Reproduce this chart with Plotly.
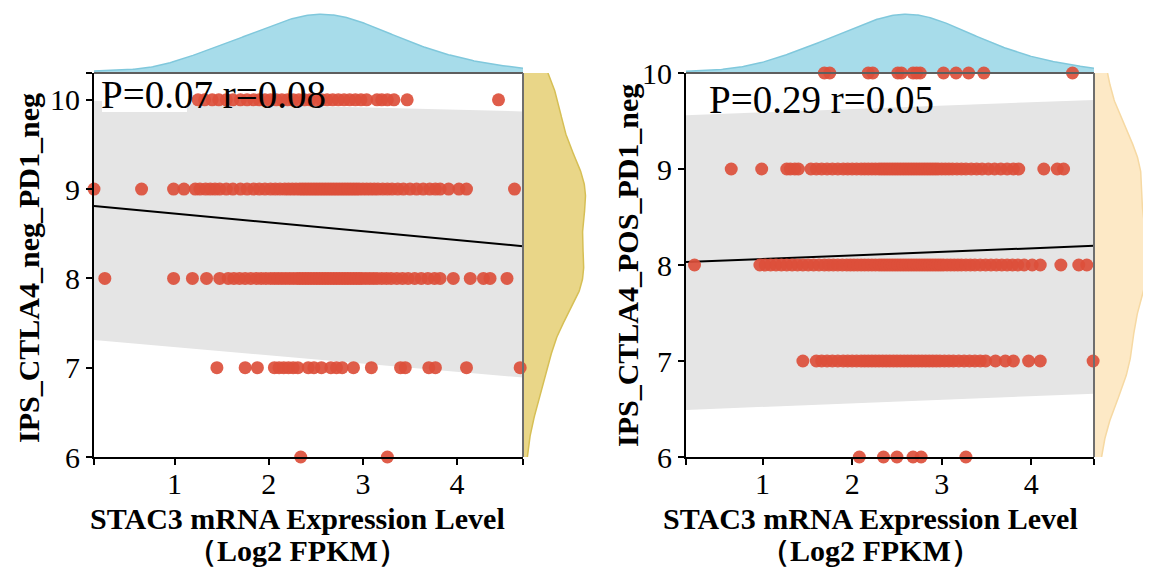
import numpy as np
import plotly.graph_objects as go

# page places the figure 8px from the window's top-left corner
OFF = 8
W, H = 1151 - OFF, 575 - OFF

# ---------------- data ----------------
x_range = [0.145, 4.70]
left_y_range = [6, 10.3]
right_y_range = [6, 10]

# Left panel: IPS_CTLA4_neg_PD1_neg
left_x10 = [1.25, 1.32, 1.40, 1.47, 1.55, 1.62, 1.70, 1.77, 1.84, 1.90, 1.96, 2.02, 2.08, 2.14,
            2.20, 2.26, 2.32, 2.38, 2.44, 2.50, 2.56, 2.62, 2.68, 2.74, 2.80, 2.86, 2.92, 2.98,
            3.04, 3.15, 3.20, 3.26, 3.33, 3.47, 4.44]
left_x9 = [0.145, 0.65, 0.99, 1.10, 1.22, 1.27, 1.33, 1.38, 1.43,
           1.48, 1.55, 1.62, 1.70, 1.77, 1.84, 1.90, 1.96, 2.02, 2.07, 2.12, 2.17, 2.21, 2.25,
           2.29, 2.33, 2.36, 2.39, 2.42, 2.45, 2.48, 2.51, 2.54, 2.57, 2.60, 2.63, 2.66, 2.69,
           2.72, 2.75, 2.78, 2.81, 2.84, 2.87, 2.90, 2.93, 2.96, 3.00, 3.04, 3.08, 3.12, 3.16,
           3.21, 3.26, 3.31, 3.37, 3.43, 3.50, 3.57, 3.64, 3.71, 3.77, 3.82,
           3.91, 4.02, 4.10, 4.61]
left_x8 = [0.26, 0.99, 1.19, 1.34, 1.48,
           1.57, 1.63, 1.69, 1.75, 1.81, 1.87, 1.92, 1.97, 2.02, 2.06, 2.10, 2.14, 2.18, 2.22,
           2.26, 2.30, 2.33, 2.36, 2.39, 2.42, 2.45, 2.48, 2.51, 2.54, 2.57, 2.60, 2.63, 2.66,
           2.69, 2.72, 2.75, 2.78, 2.81, 2.84, 2.87, 2.90, 2.93, 2.96, 2.99, 3.03, 3.07, 3.11,
           3.15, 3.20, 3.25, 3.30, 3.36, 3.42, 3.48, 3.55, 3.62, 3.69, 3.76, 3.82,
           3.96, 4.14, 4.28, 4.35, 4.53]
left_x7 = [1.45, 1.75, 1.88, 2.06, 2.11, 2.16, 2.21, 2.26, 2.31, 2.42, 2.48, 2.56, 2.66, 2.72,
           2.78, 2.90, 3.09, 3.40, 3.45, 3.70, 3.77, 4.10, 4.67]
left_x6 = [2.34, 3.26]

# Right panel: IPS_CTLA4_POS_PD1_neg
right_x10 = [1.69, 1.75, 2.18, 2.23, 2.51, 2.55, 2.68, 2.72, 2.76, 3.02, 3.16, 3.30, 3.47, 4.46]
right_x9 = [0.142, 0.65, 0.99, 1.27, 1.31, 1.36, 1.40, 1.54,
            1.60, 1.66, 1.72, 1.78, 1.84, 1.90, 1.95, 2.00, 2.05, 2.10, 2.14, 2.18, 2.22, 2.26,
            2.30, 2.33, 2.36, 2.39, 2.42, 2.45, 2.48, 2.51, 2.54, 2.57, 2.60, 2.63, 2.66, 2.69,
            2.72, 2.75, 2.78, 2.81, 2.84, 2.87, 2.90, 2.93, 2.96, 3.00, 3.04, 3.08, 3.12, 3.17,
            3.22, 3.27, 3.33, 3.39, 3.45, 3.52, 3.59, 3.66, 3.73, 3.80, 3.86,
            4.14, 4.29, 4.36]
right_x8 = [0.24,
            0.97, 1.03, 1.09, 1.15, 1.21, 1.27, 1.33, 1.39, 1.45, 1.51, 1.57, 1.63, 1.69, 1.74,
            1.79, 1.84, 1.89, 1.94, 1.98, 2.02, 2.06, 2.10, 2.14, 2.18, 2.22, 2.26, 2.30, 2.33,
            2.36, 2.39, 2.42, 2.45, 2.48, 2.51, 2.54, 2.57, 2.60, 2.63, 2.66, 2.69, 2.72, 2.75,
            2.78, 2.81, 2.84, 2.87, 2.90, 2.93, 2.96, 2.99, 3.02, 3.06, 3.10, 3.14, 3.18, 3.22,
            3.27, 3.32, 3.37, 3.43, 3.49, 3.55, 3.61, 3.67, 3.73, 3.79, 3.85,
            3.92, 4.01, 4.10, 4.33, 4.53, 4.62]
right_x7 = [1.45,
            1.60, 1.66, 1.72, 1.78, 1.84, 1.90, 1.95, 2.00, 2.05, 2.10, 2.14, 2.18, 2.22, 2.26,
            2.30, 2.34, 2.38, 2.42, 2.46, 2.50, 2.54, 2.58, 2.62, 2.66, 2.70, 2.74, 2.78, 2.82,
            2.86, 2.90, 2.94, 2.98, 3.03, 3.08, 3.13, 3.19, 3.25, 3.31, 3.37, 3.43, 3.49,
            3.60, 3.71, 3.80, 3.97, 4.10, 4.69]
right_x6 = [2.08, 2.35, 2.50, 2.68, 2.77, 3.27]

# regression line and confidence band (values at the x-range ends)
left_fit = [8.81, 8.36]
left_ci_upper = [9.99, 9.87]
left_ci_lower = [7.31, 6.89]
right_fit = [8.03, 8.20]
right_ci_upper = [9.56, 9.72]
right_ci_lower = [6.49, 6.66]

left_label = "P=0.07 r=0.08"
right_label = "P=0.29 r=0.05"
left_ytitle = "IPS_CTLA4_neg_PD1_neg"
right_ytitle = "IPS_CTLA4_POS_PD1_neg"
xtitle_1 = "STAC3 mRNA Expression Level"
xtitle_2 = "（Log2 FPKM）"

x_ticks = [1, 2, 3, 4]
y_ticks = [6, 7, 8, 9, 10]

# ---------------- styles ----------------
PT_COLOR = "#dc4f3b"
BAND_COLOR = "#e5e5e5"
BLUE_FILL, BLUE_LINE = "#a7dcea", "#80c8dc"
GOLD_FILL, GOLD_LINE = "#e9d688", "#d6bf55"
PEACH_FILL, PEACH_LINE = "#fde9c6", "#f6d9a3"
SERIF = "Liberation Serif"


def px_x(p):
    """window pixel -> paper x"""
    return (p - OFF) / W


def px_y(p):
    """window pixel -> paper y"""
    return 1 - (p - OFF) / H


def kde(values, grid, bw):
    v = np.asarray(values, float)[:, None]
    d = np.exp(-0.5 * ((grid[None, :] - v) / bw) ** 2).sum(axis=0)
    return d / d.max()


def build(rows):
    xs, ys = [], []
    for level, vals in rows:
        xs += vals
        ys += [level] * len(vals)
    return xs, ys


lx, ly = build([(10, left_x10), (9, left_x9), (8, left_x8), (7, left_x7), (6, left_x6)])
rx, ry = build([(10, right_x10), (9, right_x9), (8, right_x8), (7, right_x7), (6, right_x6)])

fig = go.Figure()

main_dom_y = [px_y(457), px_y(73)]
top_dom_y = [px_y(73), 1.0]

panels = [
    dict(xs=lx, ys=ly, yr=left_y_range, fit=left_fit, up=left_ci_upper, lo=left_ci_lower,
         xdom=[px_x(94), px_x(523)], rdom=[px_x(524), px_x(599)], rrange=[0, 1.22],
         rfill=GOLD_FILL, rline=GOLD_LINE, ax=(1, 2, 3),
         label=left_label, lab_x=99, lab_y=94, ytitle=left_ytitle, yt_x=28, yt_y=268,
         xt_x=297, extra_yticks=[10.3]),
    dict(xs=rx, ys=ry, yr=right_y_range, fit=right_fit, up=right_ci_upper, lo=right_ci_lower,
         xdom=[px_x(686), px_x(1094)], rdom=[px_x(1095), 1.0], rrange=[0, 1.056],
         rfill=PEACH_FILL, rline=PEACH_LINE, ax=(4, 5, 6),
         label=right_label, lab_x=707, lab_y=99, ytitle=right_ytitle, yt_x=627, yt_y=266,
         xt_x=870, extra_yticks=[]),
]

tickfont = dict(family=SERIF, size=30, color="black")
annotations = []
shapes = []

for p in panels:
    a_top, a_right, a_main = p["ax"]
    # ---- top marginal density of x
    gx = np.linspace(x_range[0], x_range[1], 300)
    dx = kde(p["xs"], gx, 0.36)
    fig.add_trace(go.Scatter(x=gx, y=dx, mode="lines", fill="tozeroy",
                             fillcolor=BLUE_FILL, line=dict(color=BLUE_LINE, width=1.5),
                             xaxis=f"x{a_top}", yaxis=f"y{a_top}", hoverinfo="skip",
                             showlegend=False))
    # ---- right marginal density of y
    gy = np.linspace(p["yr"][0], p["yr"][1], 300)
    dy = kde(p["ys"], gy, 0.46)
    fig.add_trace(go.Scatter(x=dy, y=gy, mode="lines", fill="tozerox",
                             fillcolor=p["rfill"], line=dict(color=p["rline"], width=1.5),
                             xaxis=f"x{a_right}", yaxis=f"y{a_right}", hoverinfo="skip",
                             showlegend=False))
    # ---- confidence band
    xm, ym = f"x{a_main}", f"y{a_main}"
    fig.add_trace(go.Scatter(x=x_range, y=p["lo"], mode="lines", line=dict(width=0),
                             xaxis=xm, yaxis=ym, hoverinfo="skip", showlegend=False))
    fig.add_trace(go.Scatter(x=x_range, y=p["up"], mode="lines", line=dict(width=0),
                             fill="tonexty", fillcolor=BAND_COLOR,
                             xaxis=xm, yaxis=ym, hoverinfo="skip", showlegend=False))
    # ---- regression line
    fig.add_trace(go.Scatter(x=x_range, y=p["fit"], mode="lines",
                             line=dict(color="black", width=2),
                             xaxis=xm, yaxis=ym, showlegend=False))
    # ---- points
    fig.add_trace(go.Scatter(x=p["xs"], y=p["ys"], mode="markers",
                             marker=dict(color=PT_COLOR, size=13, opacity=0.92,
                                         line=dict(width=0)),
                             cliponaxis=False, xaxis=xm, yaxis=ym, showlegend=False))

    # axes
    hidden = dict(visible=False, showgrid=False, zeroline=False, fixedrange=True,
                  automargin=False)
    fig.layout[f"xaxis{a_top}"] = dict(domain=p["xdom"], range=x_range, anchor=f"y{a_top}", **hidden)
    fig.layout[f"yaxis{a_top}"] = dict(domain=top_dom_y, range=[0, 1.106], anchor=f"x{a_top}", **hidden)
    fig.layout[f"xaxis{a_right}"] = dict(domain=p["rdom"], range=p["rrange"], anchor=f"y{a_right}", **hidden)
    fig.layout[f"yaxis{a_right}"] = dict(domain=main_dom_y, range=p["yr"], anchor=f"x{a_right}", **hidden)

    xt_vals = [x_range[0]] + x_ticks + [x_range[1]]
    xt_text = [""] + [str(v) for v in x_ticks] + [""]
    yt_vals = y_ticks + p["extra_yticks"]
    yt_text = [str(v) for v in y_ticks] + [""] * len(p["extra_yticks"])
    fig.layout[f"xaxis{a_main}"] = dict(
        domain=p["xdom"], range=x_range, anchor=f"y{a_main}", showgrid=False, zeroline=False,
        showline=True, linecolor="black", linewidth=2, ticks="outside", ticklen=6,
        tickwidth=1.5, tickcolor="black", tickvals=xt_vals, ticktext=xt_text,
        tickfont=tickfont, ticklabelstandoff=-7, fixedrange=True, automargin=False)
    fig.layout[f"yaxis{a_main}"] = dict(
        domain=main_dom_y, range=p["yr"], anchor=f"x{a_main}", showgrid=False, zeroline=False,
        showline=True, linecolor="black", linewidth=2, ticks="outside", ticklen=6,
        tickwidth=1.5, tickcolor="black", tickvals=yt_vals, ticktext=yt_text,
        tickfont=tickfont, fixedrange=True, automargin=False)

    # grey top / right frame
    shapes.append(dict(type="line", xref=f"x{a_main} domain", yref=f"y{a_main} domain",
                       x0=0, x1=1, y0=1, y1=1, line=dict(color="#5e5e5e", width=2), layer="above"))
    shapes.append(dict(type="line", xref=f"x{a_main} domain", yref=f"y{a_main} domain",
                       x0=1, x1=1, y0=0, y1=1, line=dict(color="#6e6e6e", width=2), layer="above"))

    # texts
    annotations.append(dict(text=p["label"], x=px_x(p["lab_x"]), y=px_y(p["lab_y"]),
                            xref="paper", yref="paper", xanchor="left", yanchor="middle",
                            showarrow=False, font=dict(family=SERIF, size=39, color="black")))
    annotations.append(dict(text=f"<b>{p['ytitle']}</b>", x=px_x(p["yt_x"]), y=px_y(p["yt_y"]),
                            xref="paper", yref="paper", xanchor="center", yanchor="middle",
                            textangle=-90, showarrow=False,
                            font=dict(family=SERIF, size=30, color="black")))
    annotations.append(dict(text=f"<b>{xtitle_1}</b>", x=px_x(p["xt_x"]), y=px_y(518),
                            xref="paper", yref="paper", xanchor="center", yanchor="middle",
                            showarrow=False, font=dict(family=SERIF, size=30, color="black")))
    annotations.append(dict(text=f"<b>{xtitle_2}</b>", x=px_x(p["xt_x"]), y=px_y(550),
                            xref="paper", yref="paper", xanchor="center", yanchor="middle",
                            showarrow=False, font=dict(family=SERIF, size=30, color="black")))

# white patch behind the left statistics label
shapes.append(dict(type="rect", xref="paper", yref="paper", x0=px_x(102), x1=px_x(187),
                   y0=px_y(112), y1=px_y(80), fillcolor="white", line=dict(width=0),
                   layer="above"))

fig.update_layout(width=W, height=H, margin=dict(l=0, r=0, t=0, b=0, autoexpand=False),
                  paper_bgcolor="white", plot_bgcolor="rgba(0,0,0,0)",
                  shapes=shapes, annotations=annotations, showlegend=False)

fig.write_html("out.html")
